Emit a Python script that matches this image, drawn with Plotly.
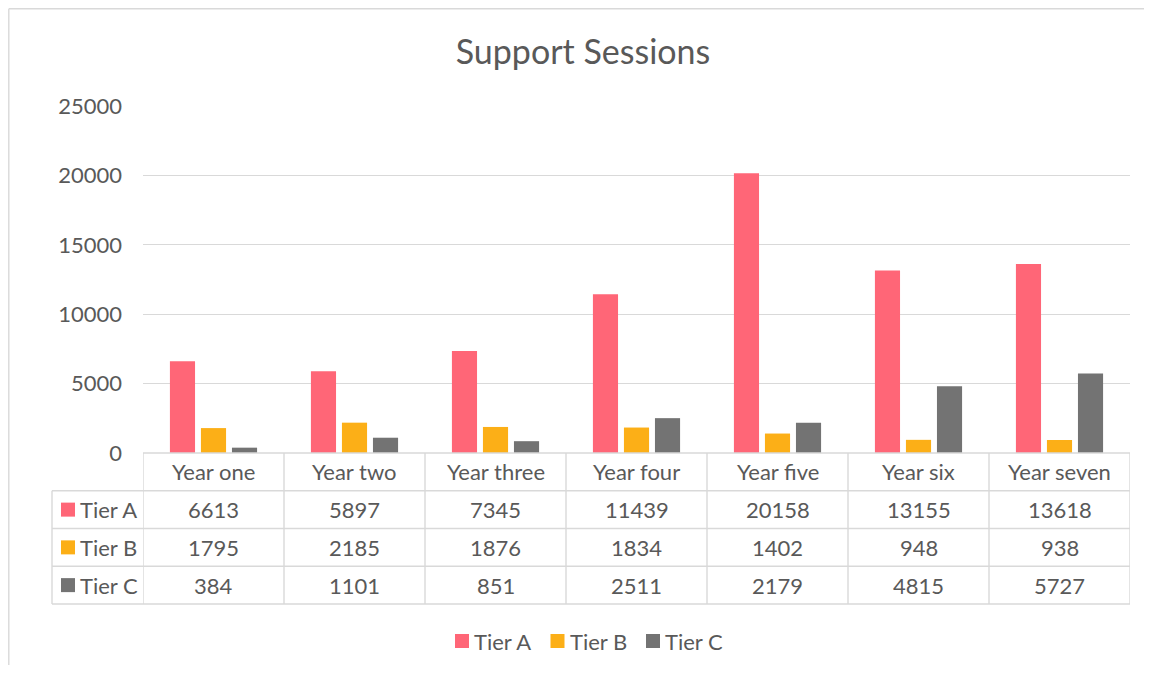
import plotly.graph_objects as go

categories = ["Year one", "Year two", "Year three", "Year four", "Year five", "Year six", "Year seven"]
series_names = ["Tier A", "Tier B", "Tier C"]
tier_a = [6613, 5897, 7345, 11439, 20158, 13155, 13618]
tier_b = [1795, 2185, 1876, 1834, 1402, 948, 938]
tier_c = [384, 1101, 851, 2511, 2179, 4815, 5727]
series_values = [tier_a, tier_b, tier_c]
series_colors = ["#FF6677", "#FCAF17", "#737373"]
y_ticks = [0, 5000, 10000, 15000, 20000, 25000]
title_text = "Support Sessions"

# the page body has an 8px margin; work in window pixels and shift by it,
# keeping the figure small enough that the page does not overflow the window
OFF = 8
W, H = 1152 - 2 * OFF, 673 - 2 * OFF
ML, MT = 143 - OFF, 106 - OFF
MR = W - (1130 - OFF)
MB = H - (453 - OFF)
PW, PH = W - ML - MR, H - MT - MB
FONT = "Lato"
TXT = "#595959"
GRID = "#D9D9D9"


def px_x(px):
    return (px - OFF - ML) / PW


def px_y(py):
    return (H - MB - (py - OFF)) / PH


fig = go.Figure()
for name, vals, col in zip(series_names, series_values, series_colors):
    fig.add_trace(go.Bar(x=categories, y=vals, name=name, marker_color=col,
                         marker_line_width=0, showlegend=False))

shapes = []
annotations = []

# chart frame (top and left edges visible in the window)
shapes.append(dict(type="line", xref="paper", yref="paper", x0=px_x(8.8), x1=px_x(W + OFF),
                   y0=px_y(8.8), y1=px_y(8.8), line=dict(color=GRID, width=1.4)))
shapes.append(dict(type="line", xref="paper", yref="paper", x0=px_x(8.8), x1=px_x(8.8),
                   y0=px_y(8.8), y1=px_y(H + OFF), line=dict(color=GRID, width=1.4)))

# data table
row_edges = [453, 490.75, 528.5, 566.25, 604]
n = len(categories)
lw = 1.4
shapes.append(dict(type="line", xref="x", yref="paper", x0=-0.5, x1=n - 0.5,
                   y0=px_y(row_edges[0]), y1=px_y(row_edges[0]), line=dict(color=GRID, width=lw)))
for r in row_edges[1:]:
    shapes.append(dict(type="line", xref="paper", yref="paper", x0=px_x(52), x1=1,
                       y0=px_y(r), y1=px_y(r), line=dict(color=GRID, width=lw)))
for i in range(n + 1):
    shapes.append(dict(type="line", xref="x", yref="paper", x0=i - 0.5, x1=i - 0.5,
                       y0=px_y(row_edges[0]), y1=px_y(row_edges[-1]), line=dict(color=GRID, width=lw)))
shapes.append(dict(type="line", xref="paper", yref="paper", x0=px_x(52), x1=px_x(52),
                   y0=px_y(row_edges[1]), y1=px_y(row_edges[-1]), line=dict(color=GRID, width=lw)))

fs = 22
hc = (row_edges[0] + row_edges[1]) / 2
for i, c in enumerate(categories):
    annotations.append(dict(x=i, y=px_y(hc), xref="x", yref="paper", text=c, showarrow=False,
                            font=dict(family=FONT, size=fs, color=TXT), xanchor="center", yanchor="middle"))
for r, (name, vals, col) in enumerate(zip(series_names, series_values, series_colors)):
    yc = (row_edges[r + 1] + row_edges[r + 2]) / 2
    shapes.append(dict(type="rect", xref="paper", yref="paper", x0=px_x(61), x1=px_x(75),
                       y0=px_y(yc + 7), y1=px_y(yc - 7), fillcolor=col, line=dict(width=0)))
    annotations.append(dict(x=px_x(78), y=px_y(yc), xref="paper", yref="paper", text=name,
                            showarrow=False, font=dict(family=FONT, size=fs, color=TXT),
                            xanchor="left", yanchor="middle"))
    for i, v in enumerate(vals):
        annotations.append(dict(x=i, y=px_y(yc), xref="x", yref="paper", text=str(v), showarrow=False,
                                font=dict(family=FONT, size=fs, color=TXT), xanchor="center", yanchor="middle"))

# legend
leg_y = 641
leg_x0 = 455
step = 95.5
for k, (name, col) in enumerate(zip(series_names, series_colors)):
    sx = leg_x0 + k * step
    shapes.append(dict(type="rect", xref="paper", yref="paper", x0=px_x(sx), x1=px_x(sx + 14),
                       y0=px_y(leg_y + 7), y1=px_y(leg_y - 7), fillcolor=col, line=dict(width=0)))
    annotations.append(dict(x=px_x(sx + 17), y=px_y(leg_y), xref="paper", yref="paper", text=name,
                            showarrow=False, font=dict(family=FONT, size=fs, color=TXT),
                            xanchor="left", yanchor="middle"))

fig.update_layout(
    width=W, height=H,
    margin=dict(l=ML, r=MR, t=MT, b=MB, pad=0),
    paper_bgcolor="white", plot_bgcolor="white",
    title=dict(text=title_text, x=(583 - OFF) / W, xref="container", y=1 - (52 - OFF) / H,
               yref="container", xanchor="center", yanchor="middle",
               font=dict(family=FONT, size=34, color=TXT)),
    barmode="group", bargap=0.34, bargroupgap=0.19,
    xaxis=dict(showticklabels=False, showgrid=False, zeroline=False, showline=False,
               range=[-0.5, n - 0.5], fixedrange=True),
    yaxis=dict(range=[0, 25000], tickvals=y_ticks, ticktext=[str(t) for t in y_ticks],
               showgrid=True, gridcolor=GRID, gridwidth=1.3, zeroline=False, showline=False,
               ticks="", ticklabelstandoff=20,
               tickfont=dict(family=FONT, size=fs, color=TXT), fixedrange=True),
    shapes=shapes, annotations=annotations,
    font=dict(family=FONT, color=TXT),
)

fig.write_html("out.html")
